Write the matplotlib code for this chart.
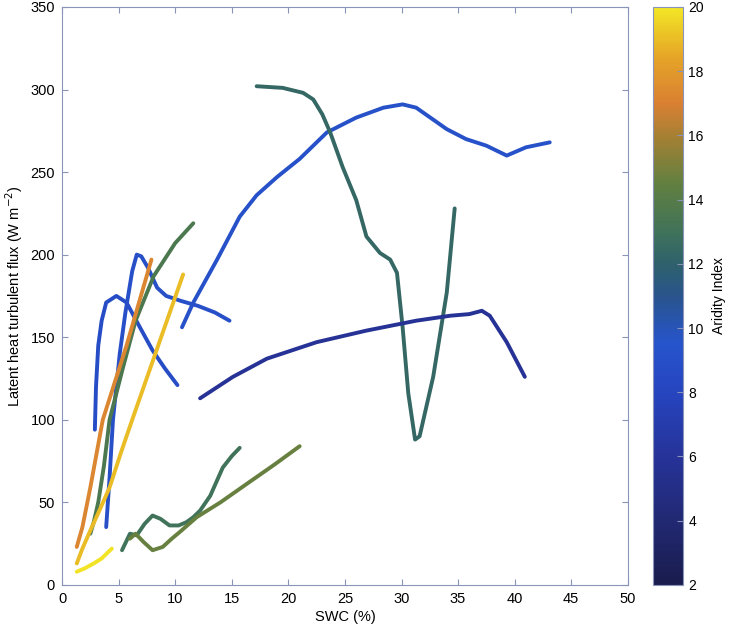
import numpy as np
import matplotlib.pyplot as plt
from matplotlib.colors import LinearSegmentedColormap, Normalize
from matplotlib.cm import ScalarMappable

plt.rcParams['font.family'] = ['Liberation Sans', 'DejaVu Sans']

# aridity index of each site curve
aridity = [9.2, 12.4, 5.8, 9.0, 8.8, 13.6, 17.2, 19.0, 19.9, 13.0, 14.6]

# SWC (%) and latent heat flux (W m-2)
swc = [
    [10.6, 11.6, 13.7, 15.7, 17.2, 19.0, 21.0, 23.4, 26.0, 28.4, 30.1, 31.3, 34.0, 35.7, 37.5, 39.3, 41.0, 43.1],
    [17.2, 19.5, 21.3, 22.2, 23.0, 23.7, 24.8, 26.0, 26.9, 28.1, 29.0, 29.6, 30.1, 30.6, 31.2, 31.6, 32.8, 34.0, 34.7],
    [12.2, 15.1, 18.1, 22.5, 26.9, 31.3, 34.3, 36.0, 37.1, 37.8, 39.3, 40.9],
    [3.9, 4.2, 4.5, 5.1, 5.6, 6.2, 6.6, 7.0, 7.6, 8.4, 9.2, 10.5, 12.0, 13.5, 14.8],
    [2.9, 3.0, 3.2, 3.5, 3.9, 4.8, 5.7, 6.8, 8.0, 9.1, 10.2],
    [2.5, 2.8, 3.2, 3.7, 4.2, 5.4, 6.5, 8.1, 10.0, 11.6],
    [1.3, 1.8, 2.5, 3.6, 5.7, 7.9],
    [1.3, 1.8, 2.5, 3.3, 4.2, 5.2, 6.2, 8.5, 10.7],
    [1.3, 2.0, 2.8, 3.5, 4.4],
    [5.3, 6.0, 6.6, 7.3, 8.0, 8.7, 9.5, 10.3, 11.0, 11.6, 12.2, 13.1, 14.2, 15.0, 15.7],
    [6.0, 6.5, 7.2, 8.0, 8.9, 9.7, 10.4, 11.9, 14.0, 16.5, 18.8, 21.0],
]
flux = [
    [156, 171, 197, 223, 236, 247, 258, 274, 283, 289, 291, 289, 276, 270, 266, 260, 265, 268],
    [302, 301, 298, 294, 285, 274, 253, 233, 211, 201, 197, 189, 156, 116, 88, 90, 126, 177, 228],
    [113, 126, 137, 147, 154, 160, 163, 164, 166, 163, 147, 126],
    [35, 65, 100, 140, 165, 190, 200, 199, 192, 180, 175, 172, 169, 165, 160],
    [94, 120, 145, 160, 171, 175, 171, 157, 142, 131, 121],
    [31, 38, 50, 72, 100, 132, 160, 187, 207, 219],
    [23, 35, 59, 100, 145, 197],
    [13, 22, 33, 45, 59, 80, 100, 145, 188],
    [8, 10, 13, 16, 22],
    [21, 31, 30, 37, 42, 40, 36, 36, 38, 41, 45, 54, 71, 78, 83],
    [28, 31, 26, 21, 23, 28, 32, 41, 50, 62, 73, 84],
]

cb_ticks = [2, 4, 6, 8, 10, 12, 14, 16, 18, 20]

# colour map sampled from the colour bar
anchors = [
    (2, (0.10, 0.11, 0.30)),
    (4, (0.13, 0.16, 0.45)),
    (6, (0.15, 0.20, 0.60)),
    (8, (0.15, 0.27, 0.75)),
    (9.5, (0.15, 0.33, 0.80)),
    (11, (0.16, 0.33, 0.55)),
    (12, (0.18, 0.38, 0.42)),
    (13, (0.25, 0.45, 0.35)),
    (14.5, (0.38, 0.50, 0.25)),
    (16, (0.65, 0.50, 0.20)),
    (17, (0.85, 0.50, 0.20)),
    (18.5, (0.90, 0.65, 0.15)),
    (20, (0.95, 0.90, 0.15)),
]
cmap = LinearSegmentedColormap.from_list(
    'arid', [((v - 2) / 18, c) for v, c in anchors])
norm = Normalize(vmin=2, vmax=20)

fig = plt.figure(figsize=(7.30, 6.33), dpi=100)
ax = fig.add_axes([0.085, 0.076, 0.775, 0.913])
cax = fig.add_axes([0.895, 0.076, 0.041, 0.913])

for a, xs, ys in zip(aridity, swc, flux):
    ax.plot(xs, ys, color=cmap(norm(a)), lw=2.8, solid_capstyle='round',
            solid_joinstyle='round')

edge = '#8a94b8'
ax.set_xlim(0, 50)
ax.set_ylim(0, 350)
ax.set_xticks(np.arange(0, 51, 5))
ax.set_yticks(np.arange(0, 351, 50))
ax.tick_params(direction='in', top=True, right=True, length=4, color=edge,
               labelsize=10.5, pad=5)
for s in ax.spines.values():
    s.set_color(edge)
    s.set_linewidth(0.8)
ax.set_xlabel('SWC (%)', fontsize=10.5, labelpad=3)
ax.set_ylabel('Latent heat turbulent flux (W m$^{-2}$)', fontsize=10.5, labelpad=4)

cb = fig.colorbar(ScalarMappable(norm=norm, cmap=cmap), cax=cax)
cb.set_ticks(cb_ticks)
cb.ax.tick_params(direction='in', length=4, labelsize=10, color=edge)
cb.outline.set_edgecolor(edge)
cb.set_label('Aridity Index', fontsize=10, labelpad=6)

fig.savefig('out.png', dpi=100)
